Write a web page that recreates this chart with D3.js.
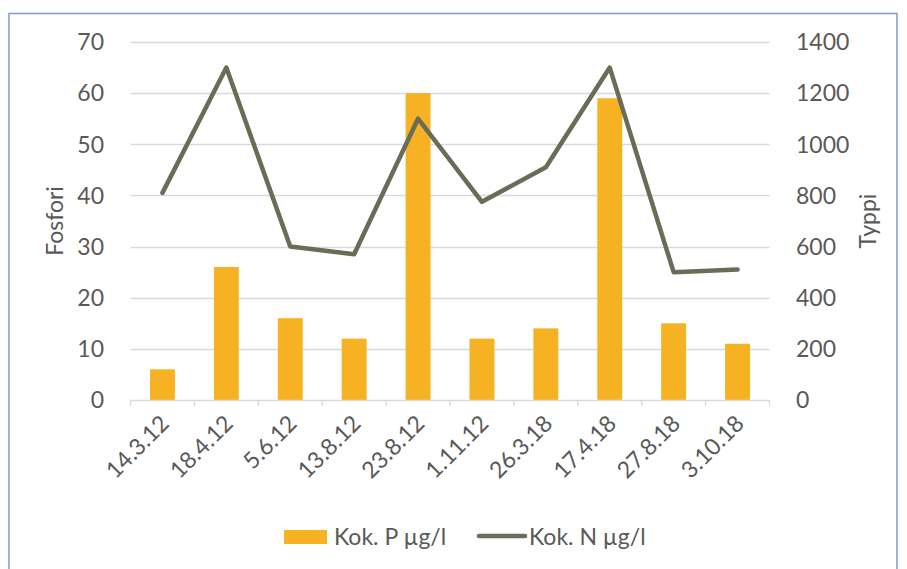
<!DOCTYPE html>
<html>
<head>
<meta charset="utf-8">
<script src="https://cdn.jsdelivr.net/npm/d3@7"></script>
<style>
  html, body { margin: 0; padding: 0; background: #fff; }
  svg { display: block; font-family: Lato, "Open Sans", sans-serif; }
</style>
</head>
<body>
<svg id="chart" width="907" height="569"></svg>
<script>
// Sampling dates
const dates = ["14.3.12", "18.4.12", "5.6.12", "13.8.12", "23.8.12", "1.11.12", "26.3.18", "17.4.18", "27.8.18", "3.10.18"];
// Total phosphorus, µg/l (left axis)
const phosphorus = [6, 26, 16, 12, 60, 12, 14, 59, 15, 11];
// Total nitrogen, µg/l (right axis)
const nitrogen = [810, 1300, 600, 570, 1100, 775, 910, 1300, 500, 510];
// Axis ticks
const leftTicks = [0, 10, 20, 30, 40, 50, 60, 70];
const rightTicks = [0, 200, 400, 600, 800, 1000, 1200, 1400];
const seriesNames = ["Kok. P µg/l", "Kok. N µg/l"];
const axisTitles = ["Fosfori", "Typpi"];

const svg = d3.select("#chart");
const plot = { left: 130.5, right: 769.5, top: 42, bottom: 400 };

const barColor = "#f6b223";
const lineColor = "#6a6c58";
const gridColor = "#d9d9d9";
const textColor = "#595959";
const fontSize = 23;

// Outer frame
svg.append("rect")
  .attr("x", 9).attr("y", 13.5)
  .attr("width", 888).attr("height", 600)
  .attr("fill", "#fff")
  .attr("stroke", "#7f9dcb").attr("stroke-width", 1.5);

const x = d3.scaleBand().domain(dates).range([plot.left, plot.right]).padding(0);
const yL = d3.scaleLinear().domain([0, 70]).range([plot.bottom, plot.top]);
const yR = d3.scaleLinear().domain([0, 1400]).range([plot.bottom, plot.top]);

// Horizontal gridlines
svg.append("g").selectAll("line")
  .data(leftTicks.filter(d => d > 0))
  .join("line")
  .attr("x1", plot.left).attr("x2", plot.right)
  .attr("y1", d => Math.round(yL(d)) + 0.5).attr("y2", d => Math.round(yL(d)) + 0.5)
  .attr("stroke", gridColor).attr("stroke-width", 1.3);

// Bars
const barW = x.bandwidth() * 0.39;
svg.append("g").selectAll("rect")
  .data(phosphorus)
  .join("rect")
  .attr("x", (d, i) => x(dates[i]) + x.bandwidth() / 2 - barW / 2)
  .attr("y", d => yL(d))
  .attr("width", barW)
  .attr("height", d => yL(0) - yL(d))
  .attr("fill", barColor);

// Category axis with tick marks at band boundaries
const xAxisG = svg.append("g");
xAxisG.append("line")
  .attr("x1", plot.left).attr("x2", plot.right)
  .attr("y1", plot.bottom + 0.5).attr("y2", plot.bottom + 0.5)
  .attr("stroke", gridColor).attr("stroke-width", 1.3);
const boundaries = dates.map(d => x(d)).concat([plot.right]);
xAxisG.selectAll("line.tick")
  .data(boundaries)
  .join("line")
  .attr("class", "tick")
  .attr("x1", d => d).attr("x2", d => d)
  .attr("y1", plot.bottom).attr("y2", plot.bottom + 6)
  .attr("stroke", gridColor).attr("stroke-width", 1.3);

xAxisG.selectAll("text")
  .data(dates)
  .join("text")
  .attr("transform", d => `translate(${x(d) + x.bandwidth() / 2 + 8},${plot.bottom + 25}) rotate(-45)`)
  .attr("text-anchor", "end")
  .attr("fill", textColor)
  .attr("font-size", fontSize)
  .text(d => d);

// Left value axis
svg.append("g").selectAll("text")
  .data(leftTicks)
  .join("text")
  .attr("x", 104).attr("y", d => yL(d))
  .attr("dy", "0.36em")
  .attr("text-anchor", "end")
  .attr("fill", textColor)
  .attr("font-size", fontSize)
  .text(d => d);

// Right value axis
svg.append("g").selectAll("text")
  .data(rightTicks)
  .join("text")
  .attr("x", 796).attr("y", d => yR(d))
  .attr("dy", "0.36em")
  .attr("text-anchor", "start")
  .attr("fill", textColor)
  .attr("font-size", fontSize)
  .text(d => d);

// Axis titles
svg.append("text")
  .attr("transform", `translate(63,221) rotate(-90)`)
  .attr("text-anchor", "middle")
  .attr("fill", textColor).attr("font-size", fontSize)
  .text(axisTitles[0]);
svg.append("text")
  .attr("transform", `translate(876,221) rotate(-90)`)
  .attr("text-anchor", "middle")
  .attr("fill", textColor).attr("font-size", fontSize)
  .text(axisTitles[1]);

// Nitrogen line
const line = d3.line()
  .x((d, i) => x(dates[i]) + x.bandwidth() / 2)
  .y(d => yR(d));
svg.append("path")
  .datum(nitrogen)
  .attr("d", line)
  .attr("fill", "none")
  .attr("stroke", lineColor)
  .attr("stroke-width", 4.5)
  .attr("stroke-linejoin", "round")
  .attr("stroke-linecap", "round");

// Legend
const legend = svg.append("g");
legend.append("rect")
  .attr("x", 284).attr("y", 530).attr("width", 43).attr("height", 14)
  .attr("fill", barColor);
legend.append("text")
  .attr("x", 334).attr("y", 537).attr("dy", "0.36em")
  .attr("fill", textColor).attr("font-size", fontSize)
  .text(seriesNames[0]);
legend.append("line")
  .attr("x1", 479).attr("x2", 525).attr("y1", 536).attr("y2", 536)
  .attr("stroke", lineColor).attr("stroke-width", 4.5)
  .attr("stroke-linecap", "round");
legend.append("text")
  .attr("x", 529).attr("y", 537).attr("dy", "0.36em")
  .attr("fill", textColor).attr("font-size", fontSize)
  .text(seriesNames[1]);
</script>
</body>
</html>
